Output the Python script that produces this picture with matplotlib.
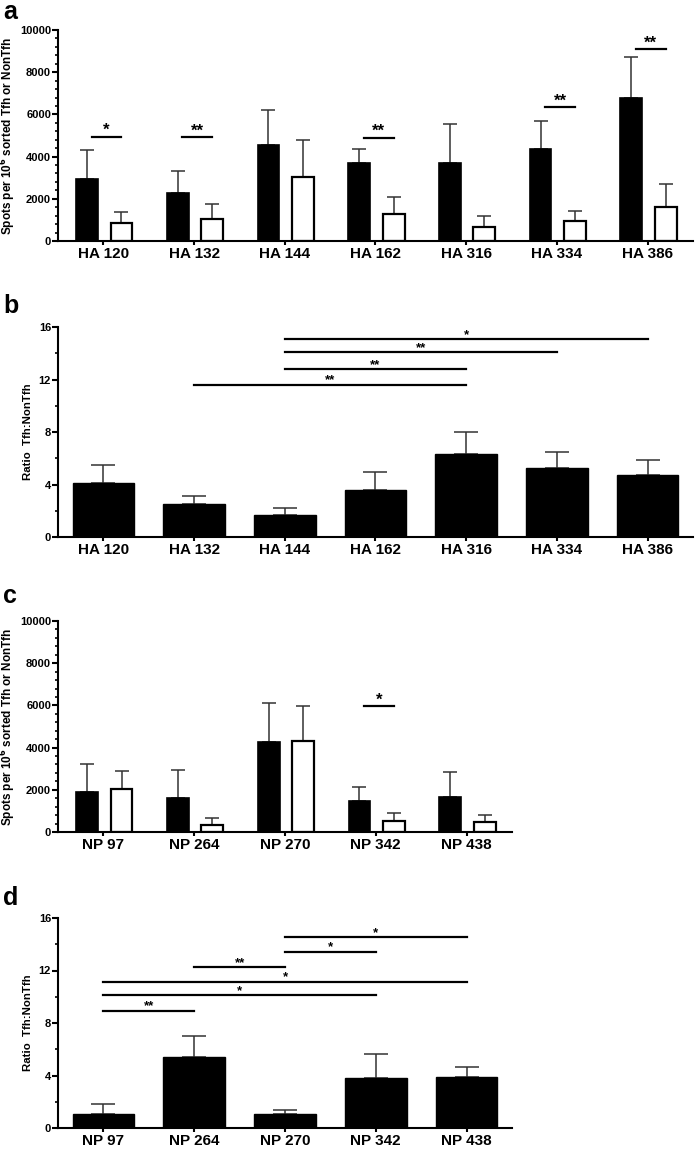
import matplotlib
matplotlib.use('Agg')
import matplotlib.pyplot as plt
import numpy as np
from matplotlib.ticker import MultipleLocator

plt.rcParams['font.family'] = ['Liberation Sans', 'DejaVu Sans']
plt.rcParams['font.weight'] = 'bold'

# panel a - HA spots
ha_labels = ['HA 120', 'HA 132', 'HA 144', 'HA 162', 'HA 316', 'HA 334', 'HA 386']
ha_tfh = [2960, 2280, 4540, 3700, 3690, 4370, 6770]
ha_tfh_err = [1360, 1045, 1690, 680, 1850, 1330, 1960]
ha_non = [855, 1030, 3010, 1280, 650, 935, 1615]
ha_non_err = [535, 710, 1800, 810, 520, 490, 1075]
# (category index, y, label)
ha_sig = [(0, 4940, '*'), (1, 4920, '**'), (3, 4890, '**'), (5, 6345, '**'), (6, 9080, '**')]

# panel b - HA ratio
ha_ratio = [4.09, 2.51, 1.70, 3.55, 6.32, 5.23, 4.70]
ha_ratio_err = [1.37, 0.61, 0.51, 1.42, 1.70, 1.27, 1.14]
# (from, to, y, label)
ha_ratio_sig = [(1, 4, 11.6, '**'), (2, 4, 12.8, '**'), (2, 5, 14.1, '**'), (2, 6, 15.1, '*')]

# panel c - NP spots
np_labels = ['NP 97', 'NP 264', 'NP 270', 'NP 342', 'NP 438']
np_tfh = [1890, 1625, 4260, 1465, 1670]
np_tfh_err = [1340, 1325, 1845, 650, 1185]
np_non = [2050, 345, 4290, 505, 455]
np_non_err = [835, 315, 1705, 410, 335]
np_sig = [(3, 5960, '*')]

# panel d - NP ratio
np_ratio = [1.04, 5.42, 1.04, 3.82, 3.87]
np_ratio_err = [0.81, 1.62, 0.30, 1.85, 0.76]
np_ratio_sig = [(0, 1, 8.94, '**'), (0, 3, 10.1, '*'), (0, 4, 11.16, '*'),
                (1, 2, 12.28, '**'), (2, 3, 13.44, '*'), (2, 4, 14.53, '*')]

W, H = 697, 1150
fig = plt.figure(figsize=(W / 100, H / 100), dpi=100)


def make_ax(left, right, top, bottom):
    return fig.add_axes([left / W, 1 - bottom / H, (right - left) / W, (bottom - top) / H])


def style_ax(ax, labels, ymax, major, minor, ylabel, ylabel_size, label_right):
    n = len(labels)
    ax.set_xlim(-0.5, n - 0.5)
    ax.set_ylim(0, ymax)
    for s in ['top', 'right']:
        ax.spines[s].set_visible(False)
    for s in ['left', 'bottom']:
        ax.spines[s].set_linewidth(1.5)
    ax.set_xticks(range(n))
    ax.set_xticklabels(labels, fontsize=11, fontweight='bold')
    ax.yaxis.set_major_locator(MultipleLocator(major))
    ax.yaxis.set_minor_locator(MultipleLocator(minor))
    ax.tick_params(axis='x', length=3, width=1.5, pad=1.5)
    ax.tick_params(axis='y', which='major', length=4, width=1.5, labelsize=8, pad=1)
    ax.tick_params(axis='y', which='minor', length=2.5, width=1.2)
    for t in ax.get_yticklabels():
        t.set_fontweight('bold')
    ax.set_ylabel(ylabel, fontsize=ylabel_size, fontweight='bold')
    # place the label's right edge at a fixed pixel column
    bb = ax.get_position()
    ax.yaxis.set_label_coords((label_right - bb.x0 * W) / (bb.width * W), 0.5)


def star(ax, x, y, lab, size, drop):
    ax.annotate(lab, (x, y), xytext=(0, -drop), textcoords='offset points',
                ha='center', va='baseline', fontsize=size, fontweight='bold')


def spots_panel(ax, labels, tfh, tfh_err, non, non_err, sig):
    x = np.arange(len(labels))
    w = 0.24
    ax.bar(x - 0.18, tfh, w, color='black', edgecolor='black', linewidth=1.2, zorder=2)
    ax.bar(x + 0.2, non, w, color='white', edgecolor='black', linewidth=1.6, zorder=2)
    ax.errorbar(x - 0.18, tfh, yerr=[np.zeros(len(x)), tfh_err], fmt='none',
                ecolor='#333333', elinewidth=1.1, capsize=4.7, capthick=1.1, zorder=1)
    ax.errorbar(x + 0.2, non, yerr=[np.zeros(len(x)), non_err], fmt='none',
                ecolor='#333333', elinewidth=1.1, capsize=4.7, capthick=1.1, zorder=1)
    style_ax(ax, labels, 10000, 2000, 400,
             'Spots per 10$^{\\mathbf{6}}$ sorted Tfh or NonTfh', 8.5, 18)
    for i, y, lab in sig:
        ax.plot([i - 0.13, i + 0.2], [y, y], color='black', lw=1.6)
        star(ax, i + 0.035, y, lab, 12, -1.2)


def ratio_panel(ax, labels, vals, errs, sig):
    x = np.arange(len(labels))
    ax.bar(x, vals, 0.68, color='black', edgecolor='black', zorder=2)
    ax.errorbar(x, vals, yerr=[np.zeros(len(x)), errs], fmt='none',
                ecolor='#333333', elinewidth=1.1, capsize=8.5, capthick=1.1, zorder=1)
    style_ax(ax, labels, 16, 4, 2, 'Ratio  Tfh:NonTfh', 8.2, 33)
    for a, b, y, lab in sig:
        ax.plot([a, b], [y, y], color='black', lw=1.6)
        star(ax, (a + b) / 2, y, lab, 9.5, -0.8)


ax_a = make_ax(58, 693, 30, 241)
spots_panel(ax_a, ha_labels, ha_tfh, ha_tfh_err, ha_non, ha_non_err, ha_sig)

ax_b = make_ax(58, 693, 327, 537)
ratio_panel(ax_b, ha_labels, ha_ratio, ha_ratio_err, ha_ratio_sig)

ax_c = make_ax(58, 512, 621, 832)
spots_panel(ax_c, np_labels, np_tfh, np_tfh_err, np_non, np_non_err, np_sig)

ax_d = make_ax(58, 512, 918, 1128)
ratio_panel(ax_d, np_labels, np_ratio, np_ratio_err, np_ratio_sig)

for letter, ypix in [('a', 0), ('b', 294), ('c', 584), ('d', 886)]:
    fig.text(3 / W, 1 - ypix / H, letter, fontsize=18, fontweight='bold', va='top', ha='left')

fig.savefig('out.png', dpi=100)
